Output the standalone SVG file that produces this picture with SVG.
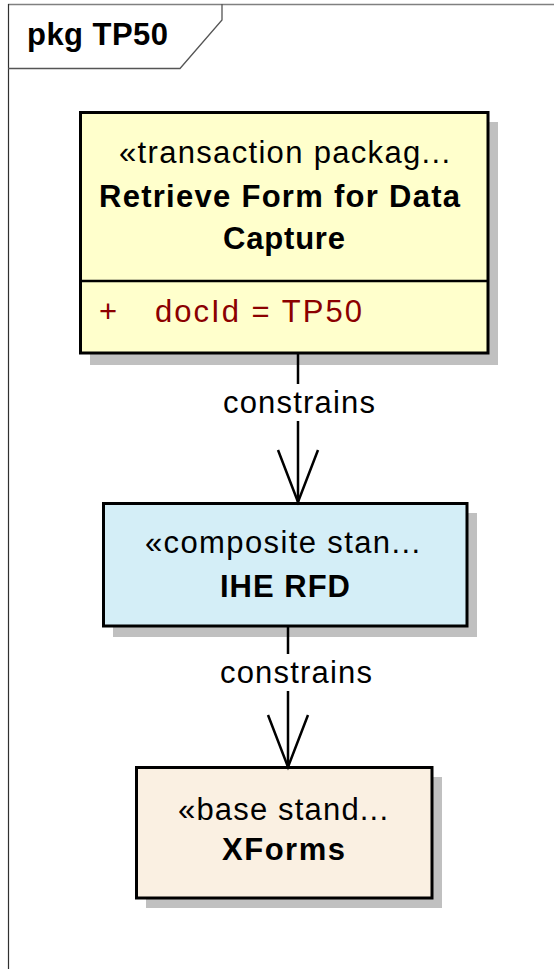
<svg xmlns="http://www.w3.org/2000/svg" width="554" height="969" viewBox="0 0 554 969">
  <style>
    text { font-family: "Liberation Sans", Arial, sans-serif; font-size: 31px; fill: #000; }
    .bold { font-weight: bold; font-size: 31px; }
    .attr { fill: #8b0000; }
    .shadow { fill: #c0c0c0; }
    .box { stroke: #000; stroke-width: 3; }
    .edge { stroke: #000; stroke-width: 2.5; fill: none; }
  </style>
  <defs>
    <!-- open "V" arrowhead, drawn along the +x axis with its tip at the origin -->
    <marker id="open-arrow" markerUnits="userSpaceOnUse" viewBox="-56 -24 60 48" refX="0" refY="0" markerWidth="60" markerHeight="48" orient="auto" overflow="visible">
      <path d="M-52 -20 L0 0 L-52 20" fill="none" stroke="#000" stroke-width="2.5"/>
    </marker>
  </defs>

  <rect width="554" height="969" fill="#fff"/>

  <!-- package frame -->
  <g id="frame">
    <line x1="8" y1="4.5" x2="554" y2="4.5" stroke="#808080" stroke-width="1.5"/>
    <line x1="8.5" y1="4" x2="8.5" y2="969" stroke="#303030" stroke-width="1.2"/>
    <path d="M222 4 L222 20 L180 68.5 L8 68.5" fill="none" stroke="#555" stroke-width="1.3"/>
    <text x="27" y="45" class="bold" textLength="141" lengthAdjust="spacing">pkg TP50</text>
  </g>

  <!-- transaction package -->
  <g id="node-tp50">
    <rect class="shadow" x="90" y="122" width="408" height="243"/>
    <rect class="box" x="80.5" y="112.5" width="407.5" height="240.5" fill="#ffffcc"/>
    <line x1="80.5" y1="281" x2="488" y2="281" stroke="#000" stroke-width="2.5"/>
    <text x="119" y="163" textLength="331" lengthAdjust="spacing">«transaction packag...</text>
    <text x="99" y="207" class="bold" textLength="361" lengthAdjust="spacing">Retrieve Form for Data</text>
    <text x="223" y="249" class="bold" textLength="122" lengthAdjust="spacing">Capture</text>
    <text x="99" y="322" class="attr">+</text>
    <text x="155" y="322" class="attr" textLength="207" lengthAdjust="spacing">docId = TP50</text>
  </g>

  <!-- composite standard -->
  <g id="node-ihe-rfd">
    <rect class="shadow" x="113" y="513" width="364" height="124"/>
    <rect class="box" x="103.5" y="503.5" width="363.5" height="122.5" fill="#d4eef7"/>
    <text x="145" y="553" textLength="275" lengthAdjust="spacing">«composite stan...</text>
    <text x="220" y="597" class="bold" textLength="130" lengthAdjust="spacing">IHE RFD</text>
  </g>

  <!-- base standard -->
  <g id="node-xforms">
    <rect class="shadow" x="146" y="777" width="296" height="131"/>
    <rect class="box" x="136.5" y="767.5" width="295.5" height="130.5" fill="#faf0e2"/>
    <text x="178" y="820" textLength="210" lengthAdjust="spacing">«base stand...</text>
    <text x="222" y="860" class="bold" textLength="123" lengthAdjust="spacing">XForms</text>
  </g>

  <!-- connectors, drawn over the node shadows -->
  <g id="connectors">
    <g id="edge-tp50-rfd">
      <path class="edge" d="M298 354 V502" marker-end="url(#open-arrow)"/>
      <rect x="222" y="384" width="154" height="37" fill="#fff"/>
      <text x="223" y="413" textLength="152" lengthAdjust="spacing">constrains</text>
    </g>
    <g id="edge-rfd-xforms">
      <path class="edge" d="M288 627 V767" marker-end="url(#open-arrow)"/>
      <rect x="219" y="654" width="155" height="37" fill="#fff"/>
      <text x="220" y="683" textLength="152" lengthAdjust="spacing">constrains</text>
    </g>
  </g>
</svg>
